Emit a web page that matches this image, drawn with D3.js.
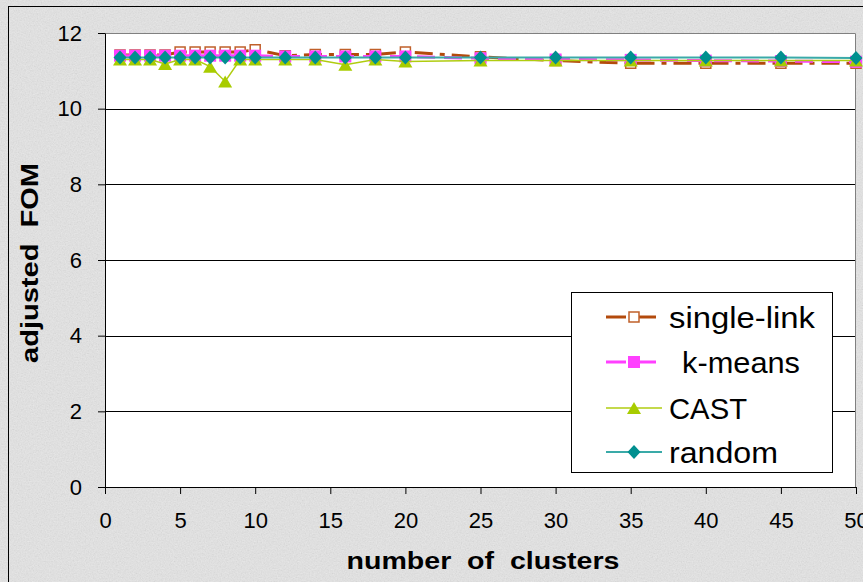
<!DOCTYPE html>
<html>
<head>
<meta charset="utf-8">
<script src="https://cdn.jsdelivr.net/npm/d3@7"></script>
<style>
  body { margin: 0; background: #e8e8e8; }
  svg { display: block; font-family: "Liberation Sans", Arial, sans-serif; }
</style>
</head>
<body>
<script>
// data
var clusters = [1, 2, 3, 4, 5, 6, 7, 8, 9, 10, 12, 14, 16, 18, 20, 25, 30, 35, 40, 45, 50];
var singleLink = [11.42, 11.42, 11.42, 11.42, 11.5, 11.5, 11.5, 11.5, 11.5, 11.56, 11.4, 11.43, 11.43, 11.43, 11.5, 11.37, 11.27, 11.2, 11.2, 11.2, 11.2];
var kMeans = [11.4, 11.4, 11.4, 11.4, 11.4, 11.4, 11.4, 11.4, 11.4, 11.4, 11.38, 11.38, 11.38, 11.38, 11.38, 11.33, 11.3, 11.29, 11.27, 11.26, 11.24];
var cast = [11.3, 11.3, 11.3, 11.18, 11.3, 11.3, 11.11, 10.72, 11.3, 11.3, 11.3, 11.3, 11.16, 11.3, 11.25, 11.27, 11.27, 11.27, 11.27, 11.27, 11.27];
var random = [11.35, 11.35, 11.35, 11.35, 11.35, 11.35, 11.35, 11.35, 11.35, 11.35, 11.35, 11.35, 11.35, 11.35, 11.35, 11.35, 11.35, 11.35, 11.35, 11.35, 11.34];
var seriesNames = ["single-link", "k-means", "CAST", "random"];
var xTicks = [0, 5, 10, 15, 20, 25, 30, 35, 40, 45, 50];
var yTicks = [0, 2, 4, 6, 8, 10, 12];

var W = 863, H = 582;
var margin = {top: 33, right: 6, bottom: 95, left: 105},
    width = 856 - margin.left,
    height = 487 - margin.top;

var x = d3.scaleLinear().domain([0, 50]).range([0, width]);
var y = d3.scaleLinear().domain([0, 12]).range([height, 0]);

var svg = d3.select("body").append("svg")
    .attr("width", W)
    .attr("height", H);

// grainy grey background
var defs = svg.append("defs");
var f = defs.append("filter").attr("id", "grain")
    .attr("x", 0).attr("y", 0).attr("width", "100%").attr("height", "100%");
f.append("feTurbulence").attr("type", "fractalNoise")
    .attr("baseFrequency", 0.75).attr("numOctaves", 2).attr("seed", 4);
f.append("feColorMatrix").attr("type", "matrix")
    .attr("values", "0.33 0.33 0.33 0 0  0.33 0.33 0.33 0 0  0.33 0.33 0.33 0 0  0 0 0 0 1");

svg.append("rect").attr("width", W).attr("height", H).attr("fill", "#e9e9e9");
svg.append("rect").attr("width", W).attr("height", H)
    .attr("filter", "url(#grain)").attr("opacity", 0.2);

// outer frame
svg.append("rect")
    .attr("x", 8.5).attr("y", 6.5)
    .attr("width", 900).attr("height", 600)
    .attr("fill", "none").attr("stroke", "#000");

var g = svg.append("g")
    .attr("transform", "translate(" + margin.left + "," + margin.top + ")");

// plot area
g.append("rect")
    .attr("width", width).attr("height", height)
    .attr("fill", "#fff");

// gridlines
g.selectAll(".grid")
    .data(yTicks.filter(function(d) { return d > 0 && d < 12; }))
  .enter().append("line")
    .attr("x1", 0).attr("x2", width)
    .attr("y1", function(d) { return Math.round(y(d)) + 0.5; })
    .attr("y2", function(d) { return Math.round(y(d)) + 0.5; })
    .attr("stroke", "#000");

// top / right border of the plot area
g.append("path")
    .attr("d", "M0,0.5H" + (width - 0.5) + "V" + height)
    .attr("fill", "none").attr("stroke", "#808080");

// axes
var xAxis = g.append("g")
    .attr("transform", "translate(0," + height + ")")
    .call(d3.axisBottom(x).tickValues(xTicks).tickSize(7).tickSizeOuter(0).tickPadding(18));
var yAxis = g.append("g")
    .call(d3.axisLeft(y).tickValues(yTicks).tickSize(7).tickSizeOuter(0).tickPadding(16));
[xAxis, yAxis].forEach(function(a) {
  a.selectAll("text").attr("font-size", "22px").attr("fill", "#000")
      .attr("font-family", "Liberation Sans, Arial, sans-serif");
  a.selectAll("line, path").attr("stroke", "#000");
  a.attr("font-family", null);
});

// marker paths
function squarePath(s) { return "M" + (-s/2) + "," + (-s/2) + "h" + s + "v" + s + "h" + (-s) + "Z"; }
function trianglePath(w, h) { return "M0," + (-h/2) + "L" + (w/2) + "," + (h/2) + "L" + (-w/2) + "," + (h/2) + "Z"; }
function diamondPath(w, h) { return "M0," + (-h/2) + "L" + (w/2) + ",0L0," + (h/2) + "L" + (-w/2) + ",0Z"; }

var series = [
  {name: seriesNames[0], values: singleLink, stroke: "#b34a0c", width: 3, dash: "18,7,5,7",
   marker: squarePath(10), mFill: "#fff", mStroke: "#c0602a", mStrokeW: 1.5},
  {name: seriesNames[1], values: kMeans, stroke: "#ff40ff", width: 3, dash: "18,9",
   marker: squarePath(12), mFill: "#ff40ff", mStroke: "none", mStrokeW: 0},
  {name: seriesNames[2], values: cast, stroke: "#b0cc10", width: 1.5, dash: null,
   marker: trianglePath(14, 12), mFill: "#a8cc00", mStroke: "none", mStrokeW: 0},
  {name: seriesNames[3], values: random, stroke: "#3aaaa8", width: 2, dash: null,
   marker: diamondPath(13, 14), mFill: "#008f8f", mStroke: "none", mStrokeW: 0}
];

var line = d3.line()
    .x(function(d) { return x(d[0]); })
    .y(function(d) { return y(d[1]); });

series.forEach(function(s) {
  var pts = clusters.map(function(c, i) { return [c, s.values[i]]; });
  g.append("path")
      .datum(pts)
      .attr("d", line)
      .attr("fill", "none")
      .attr("stroke", s.stroke)
      .attr("stroke-width", s.width)
      .attr("stroke-dasharray", s.dash);
  g.selectAll(null)
      .data(pts)
    .enter().append("path")
      .attr("d", s.marker)
      .attr("transform", function(d) { return "translate(" + x(d[0]) + "," + y(d[1]) + ")"; })
      .attr("fill", s.mFill)
      .attr("stroke", s.mStroke)
      .attr("stroke-width", s.mStrokeW);
});

// legend
var legend = svg.append("g");
legend.append("rect")
    .attr("x", 571.5).attr("y", 292.5)
    .attr("width", 261).attr("height", 180)
    .attr("fill", "#fff").attr("stroke", "#000");
var rowY = [317, 362, 408, 452];
var textX = [669, 682, 669, 669];
var textW = [146, 118, 78, 109];
series.forEach(function(s, i) {
  legend.append("line")
      .attr("x1", 606).attr("x2", 662)
      .attr("y1", rowY[i]).attr("y2", rowY[i])
      .attr("stroke", s.stroke)
      .attr("stroke-width", s.width)
      .attr("stroke-dasharray", s.dash ? "20,10" : null);
  legend.append("path")
      .attr("d", s.marker)
      .attr("transform", "translate(634," + rowY[i] + ")")
      .attr("fill", s.mFill)
      .attr("stroke", s.mStroke)
      .attr("stroke-width", s.mStrokeW);
  legend.append("text")
      .attr("x", textX[i]).attr("y", rowY[i])
      .attr("dy", "0.36em")
      .attr("font-size", "30px")
      .attr("textLength", textW[i]).attr("lengthAdjust", "spacingAndGlyphs")
      .text(s.name);
});

// axis titles
svg.append("text")
    .attr("x", 483).attr("y", 569)
    .attr("text-anchor", "middle")
    .attr("font-size", "23px").attr("font-weight", "bold")
    .attr("textLength", 273).attr("lengthAdjust", "spacingAndGlyphs")
    .style("white-space", "pre")
    .text("number  of  clusters");

svg.append("text")
    .attr("transform", "translate(38,263) rotate(-90)")
    .attr("text-anchor", "middle")
    .attr("font-size", "23px").attr("font-weight", "bold")
    .attr("textLength", 200).attr("lengthAdjust", "spacingAndGlyphs")
    .style("white-space", "pre")
    .text("adjusted  FOM");
</script>
</body>
</html>
